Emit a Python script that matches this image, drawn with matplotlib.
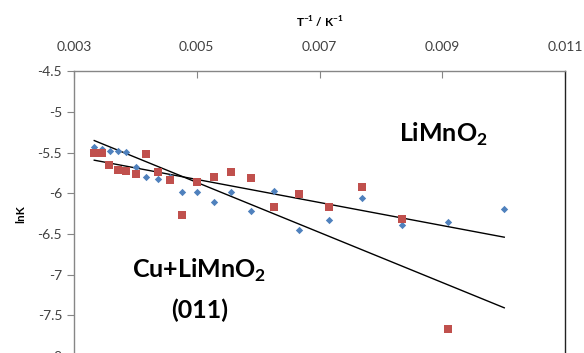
import matplotlib.pyplot as plt
import numpy as np

# data
inv_T_blue = [0.00333, 0.00346, 0.00358, 0.00371, 0.00385, 0.00401, 0.00418,
              0.00437, 0.00457, 0.00476, 0.00500, 0.00528, 0.00556, 0.00589,
              0.00626, 0.00667, 0.00715, 0.00770, 0.00834, 0.00910, 0.01001]
lnK_blue = [-5.424, -5.456, -5.473, -5.473, -5.485, -5.677, -5.800,
            -5.817, -5.800, -5.980, -5.980, -6.103, -5.977, -6.222,
            -5.968, -6.447, -6.324, -6.058, -6.389, -6.357, -6.193]

inv_T_red = [0.00333, 0.00346, 0.00357, 0.00371, 0.00385, 0.00401, 0.00417,
             0.00437, 0.00457, 0.00476, 0.00500, 0.00528, 0.00556, 0.00589,
             0.00626, 0.00667, 0.00715, 0.00770, 0.00834, 0.00910]
lnK_red = [-5.505, -5.505, -5.649, -5.710, -5.722, -5.759, -5.514,
           -5.738, -5.833, -6.267, -5.861, -5.800, -5.738, -5.812,
           -6.161, -6.009, -6.168, -5.919, -6.312, -7.667]

# trendlines (intercept, slope) as shown on the chart
trend_shallow = (-5.119, -141.8)
trend_steep = (-4.324, -308.0)
trend_x = [0.00333, 0.01001]

plt.rcParams['font.family'] = ['Lato', 'DejaVu Sans']
plt.rcParams['mathtext.fontset'] = 'custom'
plt.rcParams['mathtext.rm'] = 'Lato'
plt.rcParams['mathtext.bf'] = 'Lato:bold'

fig = plt.figure(figsize=(5.84, 3.53), dpi=100)
ax = fig.add_axes([0.1267, -0.0085, 0.8408, 0.806])

ax.scatter(inv_T_blue, lnK_blue, marker='D', s=14, color='#4F81BD', zorder=3, linewidths=0)
ax.scatter(inv_T_red, lnK_red, marker='s', s=36, color='#C0504D', zorder=3, linewidths=0)

for a, b in [trend_shallow, trend_steep]:
    xs = np.array(trend_x)
    ax.plot(xs, a + b * xs, color='black', linewidth=1.0, zorder=2)

ax.set_xlim(0.003, 0.011)
ax.set_ylim(-8, -4.5)
ax.set_xticks([0.003, 0.005, 0.007, 0.009, 0.011])
ax.set_xticklabels(['0.003', '0.005', '0.007', '0.009', '0.011'])
ax.set_yticks([-8, -7.5, -7, -6.5, -6, -5.5, -5, -4.5])
ax.set_yticklabels(['-8', '-7.5', '-7', '-6.5', '-6', '-5.5', '-5', '-4.5'])

ax.xaxis.tick_top()
ax.xaxis.set_label_position('top')
ax.tick_params(axis='x', direction='in', length=5, color='#868686',
               labelsize=10, labelcolor='#404040', pad=13)
ax.tick_params(axis='y', direction='out', length=5, color='#868686',
               labelsize=10, labelcolor='#404040')

for side in ['top', 'left']:
    ax.spines[side].set_color('#868686')
    ax.spines[side].set_linewidth(1.0)
ax.spines['right'].set_color('#222222')
ax.spines['right'].set_linewidth(1.0)
ax.spines['bottom'].set_visible(False)

ax.set_xlabel('T$^{\\mathbf{-1}}$ / K$^{\\mathbf{-1}}$', fontsize=8.5, fontweight='bold', labelpad=10)
ax.set_ylabel('lnK', fontsize=8.5, fontweight='bold', labelpad=8)

ax.text(0.00830, -5.27, 'LiMnO$_\\mathbf{2}$', fontsize=18, fontweight='bold',
        ha='left', va='center')
ax.text(0.00504, -6.95, 'Cu+LiMnO$_\\mathbf{2}$', fontsize=18, fontweight='bold',
        ha='center', va='center')
ax.text(0.00504, -7.44, '(011)', fontsize=18, fontweight='bold',
        ha='center', va='center')

fig.savefig('out.png', dpi=100)
